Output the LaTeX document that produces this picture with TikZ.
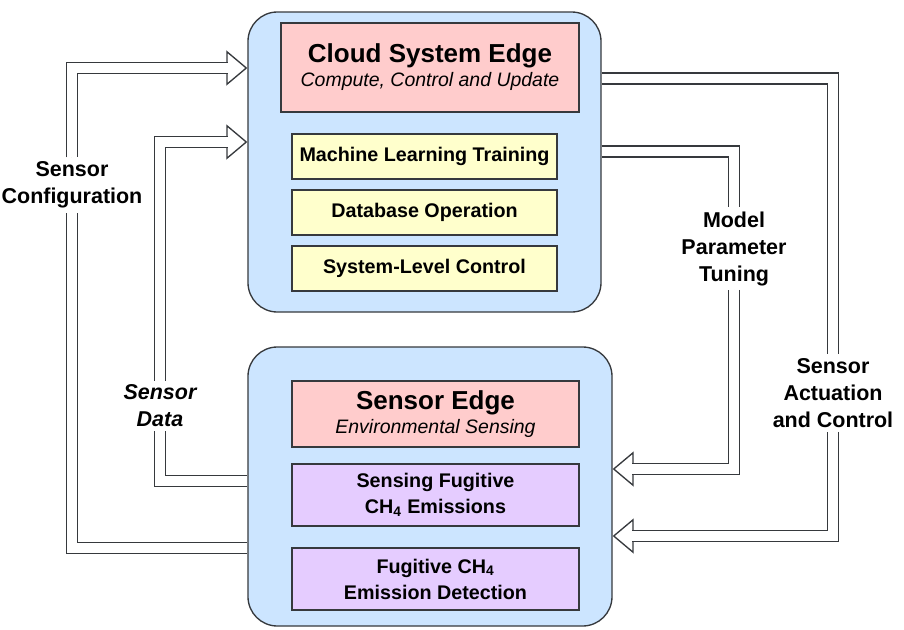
\documentclass[tikz,border=0pt]{standalone}
\usepackage{fontspec}
\setmainfont{Liberation Sans}
\usetikzlibrary{arrows.meta,backgrounds}
\definecolor{edgeline}{HTML}{36393D}
\definecolor{edgeblue}{HTML}{CCE5FF}
\definecolor{headpink}{HTML}{FFCCCC}
\definecolor{taskyellow}{HTML}{FFFFCC}
\definecolor{sensepurple}{HTML}{E5CCFF}
\tikzset{
    edgebox/.style={draw=edgeline, line width=1pt, fill=edgeblue, rounded corners=22pt, inner sep=0pt},
    headbox/.style={draw=edgeline, line width=1pt, fill=headpink, inner sep=0pt, align=center, font=\fontsize{14.6}{18}\selectfont},
    taskbox/.style={draw=edgeline, line width=1pt, fill=taskyellow, minimum width=198.75pt, minimum height=33.75pt, inner sep=0pt, font=\fontsize{14.8}{18}\selectfont\bfseries},
    sensebox/.style={draw=edgeline, line width=1pt, fill=sensepurple, minimum width=215.25pt, minimum height=46.5pt, inner sep=0pt, align=center, font=\fontsize{14.8}{19.5}\selectfont\bfseries},
    sidelabel/.style={align=center, inner sep=3pt, font=\fontsize{16.1}{20.25}\selectfont\bfseries},
    fathead/.style={draw=edgeline, line width=1pt, -{Triangle[length=15.75pt, width=26.25pt, fill=white]}},
    fatbody/.style={draw=edgeline, line width=1pt, double=white, double distance=7.25pt, shorten >=14.5pt}
}
\newcommand{\titletext}{\fontsize{19.5}{22}\selectfont\bfseries}
\begin{document}
\begin{tikzpicture}[x=0.75pt, y=-0.75pt]
    \useasboundingbox (0,0) rectangle (904,629);

    %CLOUD EDGE
    \node[edgebox, minimum width=264.75pt, minimum height=225pt] (cloud) at (424.5,162) {};
    \node[headbox, minimum width=223.5pt, minimum height=66.75pt] (cloudhead) at (430,67.5) {{\titletext Cloud System Edge}\\\itshape Compute, Control and Update};
    \node[taskbox] (mltrain) at (424.5,156.5) {Machine Learning Training};
    \node[taskbox] (dbop) at (424.5,212.5) {Database Operation};
    \node[taskbox] (sysctrl) at (424.5,268.5) {System-Level Control};

    %SENSOR EDGE
    \node[edgebox, minimum width=273pt, minimum height=209.25pt] (sensor) at (430,486.5) {};
    \node[headbox, minimum width=215.25pt, minimum height=49.5pt] (sensorhead) at (435.5,414) {{\titletext Sensor Edge}\\\itshape Environmental Sensing};
    \node[sensebox] (sensing) at (435.5,495) {Sensing Fugitive\\CH\textsubscript{4} Emissions};
    \node[sensebox] (detect) at (435.5,579) {Fugitive CH\textsubscript{4}\\Emission Detection};

    %LABELS
    \node[sidelabel] (cfg) at (72,185) {Sensor\\Configuration};
    \node[sidelabel, font=\fontsize{16.1}{20.25}\selectfont\bfseries\itshape] (data) at (160,406) {Sensor\\Data};
    \node[sidelabel] (model) at (734,248.5) {Model\\Parameter\\Tuning};
    \node[sidelabel] (act) at (833,393) {Sensor\\Actuation\\and Control};

    %ARROWS
    \begin{pgfonlayer}{background}
        \draw[fathead] (sensor.west |- 0,548) -| (cfg) |- (cloud.west |- 0,68);
        \draw[fatbody] (sensor.west |- 0,548) -| (cfg) |- (cloud.west |- 0,68);
        \draw[fathead] (sensor.west |- 0,481) -| (data) |- (cloud.west |- 0,142);
        \draw[fatbody] (sensor.west |- 0,481) -| (data) |- (cloud.west |- 0,142);
        \draw[fathead] (cloud.east |- 0,151.5) -| (model) |- (sensor.east |- 0,469);
        \draw[fatbody] (cloud.east |- 0,151.5) -| (model) |- (sensor.east |- 0,469);
        \draw[fathead] (cloud.east |- 0,78.5) -| (act) |- (sensor.east |- 0,536);
        \draw[fatbody] (cloud.east |- 0,78.5) -| (act) |- (sensor.east |- 0,536);
    \end{pgfonlayer}
\end{tikzpicture}
\end{document}
